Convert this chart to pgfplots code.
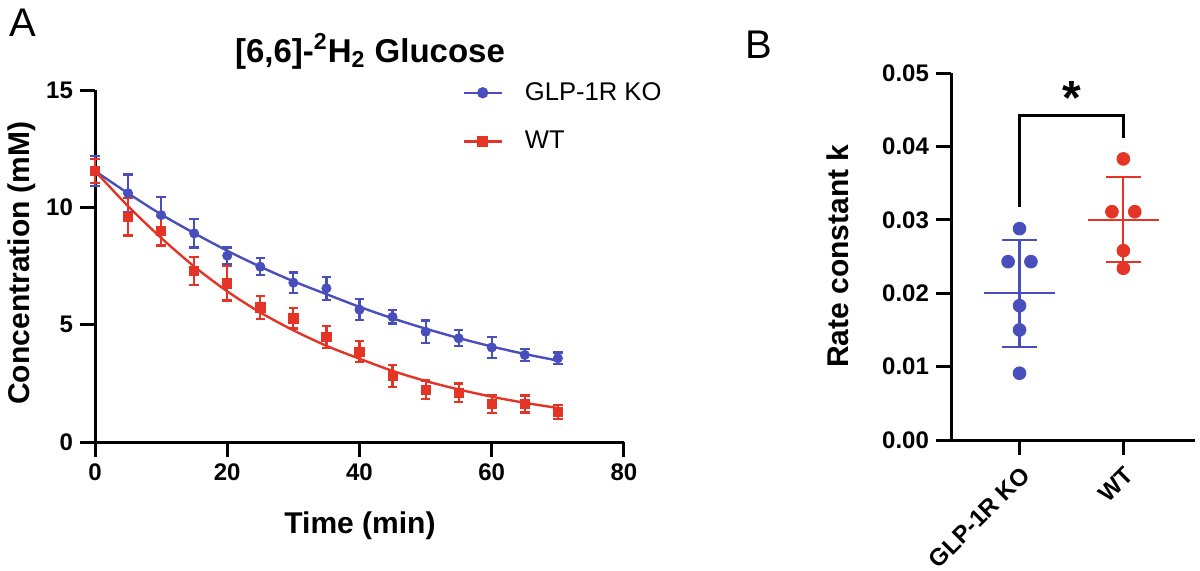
\documentclass[border=0pt]{standalone}
\usepackage{fontspec}
\setmainfont{Liberation Sans}
\usepackage{pgfplots}
\pgfplotsset{compat=1.18}
\usepackage{pgfplotstable}

\definecolor{koblue}{RGB}{72,78,188}
\definecolor{wtred}{RGB}{228,52,38}

% plasma [6,6]-2H2 glucose, mean and error per time point
\pgfplotstableread{
t   y     err
0   11.55 0.65
5   10.60 0.80
10  9.67  0.77
15  8.89  0.60
20  7.94  0.35
25  7.47  0.36
30  6.79  0.43
35  6.55  0.49
40  5.64  0.45
45  5.33  0.28
50  4.70  0.48
55  4.42  0.34
60  4.03  0.45
65  3.71  0.25
70  3.57  0.24
}\kodata

\pgfplotstableread{
t   y     err
0   11.55 0.50
5   9.60  0.80
10  9.00  0.63
15  7.29  0.60
20  6.76  0.73
25  5.74  0.49
30  5.27  0.43
35  4.47  0.48
40  3.85  0.44
45  2.81  0.48
50  2.22  0.40
55  2.10  0.39
60  1.62  0.38
65  1.62  0.36
70  1.28  0.29
}\wtdata

% fitted one-phase decay curves
\pgfplotstableread{
t   y
0   11.55
5   10.60
10  9.70
15  8.90
20  8.15
25  7.47
30  6.85
35  6.30
40  5.76
45  5.27
50  4.83
55  4.43
60  4.07
65  3.75
70  3.47
}\kofit

\pgfplotstableread{
t   y
0   11.55
5   10.05
10  8.70
15  7.48
20  6.42
25  5.52
30  4.76
35  4.10
40  3.55
45  3.03
50  2.60
55  2.24
60  1.93
65  1.67
70  1.45
}\wtfit

% individual rate constants
\pgfplotstableread{
x      k
0      0.0288
-0.11  0.0243
0.11   0.0243
0      0.0183
0      0.0150
0      0.0091
}\kok

\pgfplotstableread{
x      k
1      0.0383
0.89   0.0311
1.11   0.0311
1      0.0258
1      0.0234
}\wtk

\begin{document}
\begin{tikzpicture}
\useasboundingbox (0,0) rectangle (600pt,285pt);
\pgfplotsset{
  prism/.style={
    scale only axis, clip=false,
    axis lines=left,
    axis line style={-, line width=1.5pt},
    tick align=outside,
    major tick length=7.5pt,
    tick style={black, line width=1.5pt},
    tick label style={font=\fontsize{12}{12}\selectfont\bfseries},
    /pgf/number format/assume math mode=true,
  },
  sembars/.style={
    error bars/.cd, y dir=both, y explicit,
    error bar style={line width=1.1pt},
    error mark options={rotate=90, line width=1.1pt, mark size=2.4pt},
  },
}

% panel A: decay curves
\begin{axis}[prism,
  at={(47.5pt,64pt)}, anchor=south west,
  width=264.5pt, height=176pt,
  xmin=0, xmax=80, ymin=0, ymax=15,
  xtick={0,20,40,60,80}, ytick={0,5,10,15},
  legend style={draw=none, fill=none, at={(axis description cs:0.694,1.023)},
    anchor=north west, font=\fontsize{12.8}{13}\selectfont,
    row sep=14pt, column sep=11pt, inner sep=0pt, nodes={inner sep=0pt}},
  legend cell align=left,
  legend image code/.code={\draw[mark repeat=2, mark phase=2, #1]
     plot coordinates {(0pt,0pt) (9.5pt,0pt) (19pt,0pt)};},
]
\addlegendimage{koblue, line width=1.2pt, mark=*, mark size=2.2pt}
\addlegendentry{GLP-1R KO}
\addlegendimage{wtred, line width=1.2pt, mark=square*, mark size=2.2pt}
\addlegendentry{WT}

\addplot[forget plot, koblue, line width=1.2pt, smooth] table {\kofit};
\addplot[forget plot, wtred, line width=1.2pt, smooth] table {\wtfit};

\addplot[forget plot, koblue, only marks, mark=*, mark size=2.3pt, sembars]
  table[x=t, y=y, y error=err] {\kodata};
\addplot[forget plot, wtred, only marks, mark=square*, mark size=2.3pt, sembars]
  table[x=t, y=y, y error=err] {\wtdata};
\end{axis}

% panel B: rate constants
\begin{axis}[prism,
  at={(475.5pt,65pt)}, anchor=south west,
  width=122pt, height=183.5pt,
  xmin=-0.66, xmax=1.69, ymin=0, ymax=0.05,
  xtick={0,1}, xticklabels={GLP-1R KO, WT},
  xticklabel style={rotate=45, anchor=north east},
  ytick={0,0.01,0.02,0.03,0.04,0.05},
  scaled y ticks=false,
  yticklabel style={/pgf/number format/.cd, fixed, fixed zerofill, precision=2},
]
\addplot[koblue, only marks, mark=*, mark size=3.2pt] table[x=x, y=k] {\kok};
\addplot[wtred, only marks, mark=*, mark size=3.2pt] table[x=x, y=k] {\wtk};
% mean and SD
\addplot[koblue, line width=1.1pt] coordinates {(-0.34,0.0200) (0.34,0.0200)};
\addplot[koblue, line width=1.1pt] coordinates {(0,0.0127) (0,0.0273)};
\addplot[koblue, line width=1.1pt] coordinates {(-0.165,0.0273) (0.165,0.0273)};
\addplot[koblue, line width=1.1pt] coordinates {(-0.165,0.0127) (0.165,0.0127)};
\addplot[wtred, line width=1.1pt] coordinates {(0.66,0.0300) (1.34,0.0300)};
\addplot[wtred, line width=1.1pt] coordinates {(1,0.0242) (1,0.0358)};
\addplot[wtred, line width=1.1pt] coordinates {(0.835,0.0358) (1.165,0.0358)};
\addplot[wtred, line width=1.1pt] coordinates {(0.835,0.0242) (1.165,0.0242)};
% significance bracket
\addplot[black, line width=1.3pt] coordinates {(0,0.0318) (0,0.0442) (1,0.0442) (1,0.0411)};
\node[font=\fontsize{24}{24}\selectfont\bfseries, anchor=base] at (axis cs:0.5,0.0443) {*};
\end{axis}

% titles and axis labels
\node[anchor=base west, font=\fontsize{20}{20}\selectfont] at (1pt,267pt) {A};
\node[anchor=base west, font=\fontsize{20}{20}\selectfont] at (369pt,256pt) {B};
\node[anchor=base, font=\fontsize{16.5}{17}\selectfont\bfseries] at (185pt,254pt)
  {[6,6]-\textsuperscript{2}H\textsubscript{2} Glucose};
\node[anchor=base, font=\fontsize{15}{15}\selectfont\bfseries] at (180pt,18.5pt) {Time (min)};
\node[rotate=90, font=\fontsize{15}{15}\selectfont\bfseries] at (11pt,153.5pt) {Concentration (mM)};
\node[rotate=90, font=\fontsize{15}{15}\selectfont\bfseries] at (419pt,157pt) {Rate constant k};
\end{tikzpicture}
\end{document}
